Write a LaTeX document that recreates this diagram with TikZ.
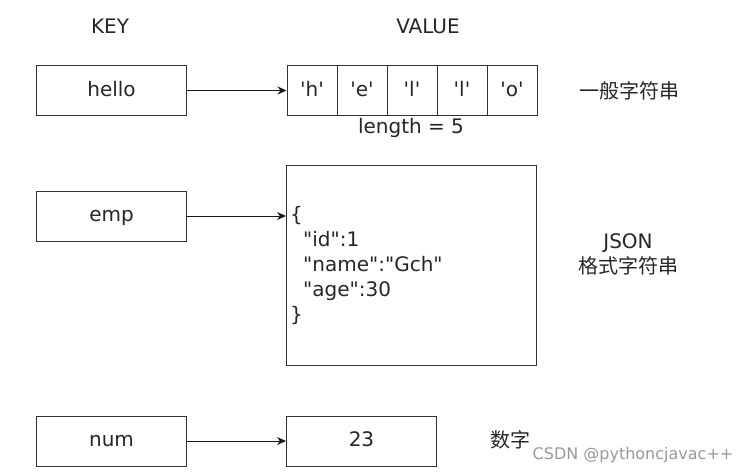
\documentclass[tikz,border=0pt]{standalone}
\usepackage{fontspec}
\setmainfont{DejaVu Sans}
\newfontfamily\cjk{Noto Sans CJK SC}
\usetikzlibrary{arrows.meta}
\newcommand\dq{\textquotedbl}
\tikzset{
  txt/.style={font=\fontsize{20}{25}\selectfont, text=black!85},
  box/.style={draw=black!80, line width=1pt, minimum width=150pt, minimum height=50pt, inner sep=0pt, text height=15pt, text depth=4pt},
  cell/.style={box, minimum width=50pt},
  link/.style={draw=black!90, line width=1pt, -{Stealth[length=9pt,width=8pt]}},
}
\begin{document}
\begin{tikzpicture}[x=1pt,y=-1pt, every node/.style={txt}]
        \useasboundingbox (0,0) rectangle (753,474);
        \node (key) at (110,26) {KEY};
        \node (value) at (428,26) {VALUE};
        % plain string
        \node[box] (hello) at (111.5,90.5) {hello};
        \foreach \c [count=\i] in {h,e,l,l,o}
          \node[cell] (c\i) at (262+50*\i,90.5) {\textquotesingle\c\textquotesingle};
        \draw[link] (hello) -- (c1);
        \node (len) at (411,128) {length = 5};
        \node (plain) at (629,91) {\cjk 一般字符串};
        % json string
        \node[box] (emp) at (111.5,216) {emp};
        \node[box, minimum width=250pt, minimum height=200pt] (json) at (411.5,265) {};
        \draw[link] (emp) -- (emp -| json.west);
        \node[anchor=west, align=left, inner sep=0pt] (obj) at (290,266)
          {\{\\\hspace*{13pt}\dq id\dq:1\\\hspace*{13pt}\dq name\dq:\dq Gch\dq\\\hspace*{13pt}\dq age\dq:30\\\}};
        \node[align=center] (fmt) at (628,254) {JSON\\\cjk 格式字符串};
        % number
        \node[box] (num) at (111.5,441) {num};
        \node[box] (val) at (361.5,441) {23};
        \draw[link] (num) -- (val);
        \node (digit) at (510,440) {\cjk 数字};
        \node[font=\fontsize{16}{18}\selectfont, text=black!40] (mark) at (633,455) {CSDN @pythoncjavac++};
\end{tikzpicture}
\end{document}
